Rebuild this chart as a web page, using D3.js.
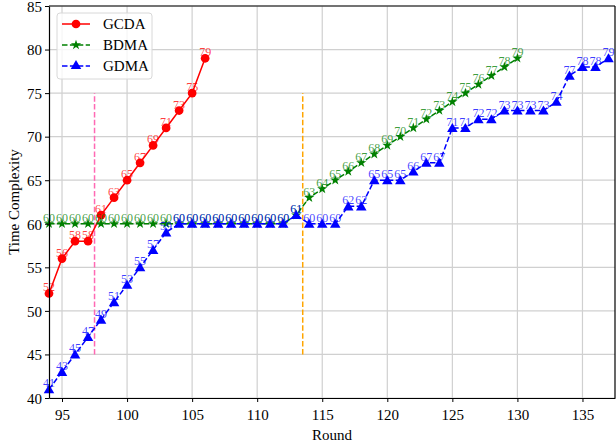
<!DOCTYPE html>
<html>
<head>
<meta charset="utf-8">
<script src="https://cdn.jsdelivr.net/npm/d3@7"></script>
<style>
  body { margin: 0; background: #fff; }
  svg, svg text { font-family: "Liberation Serif", "Times New Roman", serif; }
</style>
</head>
<body>
<div id="chart"></div>
<script>
// rounds and values
const gcdaRounds = d3.range(94, 107);
const gcdaValues = [52, 56, 58, 58, 61, 63, 65, 67, 69, 71, 73, 75, 79];

const bdmaRounds = d3.range(94, 131);
const bdmaValues = [60, 60, 60, 60, 60, 60, 60, 60, 60, 60, 60, 60, 60, 60, 60, 60, 60, 60, 60, 61,
                    63, 64, 65, 66, 67, 68, 69, 70, 71, 72, 73, 74, 75, 76, 77, 78, 79];

const gdmaRounds = d3.range(94, 138);
const gdmaValues = [41, 43, 45, 47, 49, 51, 53, 55, 57, 59, 60, 60, 60, 60, 60, 60, 60, 60, 60, 61,
                    60, 60, 60, 62, 62, 65, 65, 65, 66, 67, 67, 71, 71, 72, 72, 73, 73, 73, 73, 74,
                    77, 78, 78, 79];

const xTicks = [95, 100, 105, 110, 115, 120, 125, 130, 135];
const yTicks = [40, 45, 50, 55, 60, 65, 70, 75, 80, 85];

// vertical reference lines: [round, yFrom, yTo, colour]
const markLines = [[97.5, 45, 75, '#ff69b4'], [113.5, 45, 75, '#ffa500']];

const width = 616, height = 447;
const margin = { left: 49, right: 1, top: 6, bottom: 49 };
const serif = '"Liberation Serif", "Times New Roman", serif';
const xMin = 94, xMax = 137.5;

const svg = d3.select('#chart').append('svg')
    .attr('width', width)
    .attr('height', height)
    .attr('font-family', serif);

const x = d3.scaleLinear().domain([xMin, xMax]).range([margin.left, width - margin.right]);
const y = d3.scaleLinear().domain([40, 85]).range([height - margin.bottom, margin.top]);

// grid
svg.append('g').selectAll('line').data(xTicks).enter().append('line')
    .attr('x1', d => x(d)).attr('x2', d => x(d))
    .attr('y1', y(40)).attr('y2', y(85))
    .style('stroke', '#d0d0d0').style('stroke-width', 1.2);
svg.append('g').selectAll('line').data(yTicks).enter().append('line')
    .attr('x1', x(xMin)).attr('x2', x(xMax))
    .attr('y1', d => y(d)).attr('y2', d => y(d))
    .style('stroke', '#d0d0d0').style('stroke-width', 1.2);

// reference lines
svg.append('g').selectAll('line').data(markLines).enter().append('line')
    .attr('x1', d => x(d[0])).attr('x2', d => x(d[0]))
    .attr('y1', d => y(d[1])).attr('y2', d => y(d[2]))
    .style('stroke', d => d[3]).style('stroke-width', 1.5)
    .style('stroke-dasharray', '5.5,2.4');

const series = [
    { name: 'GCDA', rounds: gcdaRounds, values: gcdaValues, color: '#ff0000', dash: null, marker: d3.symbolCircle, size: 60 },
    { name: 'BDMA', rounds: bdmaRounds, values: bdmaValues, color: '#008000', dash: '5.5,2.4', marker: d3.symbolStar, size: 32 },
    { name: 'GDMA', rounds: gdmaRounds, values: gdmaValues, color: '#0000ff', dash: '5.5,2.4', marker: d3.symbolTriangle, size: 48 }
];

const line = d3.line().x(d => x(d[0])).y(d => y(d[1]));

series.forEach(s => {
    const pts = s.rounds.map((r, i) => [r, s.values[i]]);
    const g = svg.append('g');
    g.append('path')
        .attr('d', line(pts))
        .style('fill', 'none')
        .style('stroke', s.color)
        .style('stroke-width', 1.5)
        .style('stroke-dasharray', s.dash);
    g.selectAll('path.m').data(pts).enter().append('path')
        .attr('class', 'm')
        .attr('d', d3.symbol().type(s.marker).size(s.size))
        .attr('transform', d => `translate(${x(d[0])},${y(d[1]) + (s.marker === d3.symbolTriangle ? 1 : 0)})`)
        .style('fill', s.color);
    g.selectAll('text').data(pts).enter().append('text')
        .attr('x', d => x(d[0]))
        .attr('y', d => y(d[1]) - 2)
        .attr('text-anchor', 'middle')
        .style('font-family', serif)
        .style('font-size', '12px')
        .style('fill', s.color)
        .style('fill-opacity', 0.75)
        .text(d => d[1]);
});

// axes
const xAxis = svg.append('g')
    .attr('transform', `translate(0,${y(40)})`)
    .call(d3.axisBottom(x).tickValues(xTicks).tickSize(4).tickSizeOuter(0));
const yAxis = svg.append('g')
    .attr('transform', `translate(${x(xMin)},0)`)
    .call(d3.axisLeft(y).tickValues(yTicks).tickSize(4).tickSizeOuter(0));
[xAxis, yAxis].forEach(a => {
    a.attr('font-family', serif);
    a.selectAll('text').style('font-size', '15px').style('fill', '#000')
        .style('font-family', serif);
    a.select('.domain').style('stroke', '#000').style('stroke-width', 1.2);
});
xAxis.selectAll('text').attr('dy', '1.0em');
yAxis.selectAll('text').attr('dy', '0.35em');

// top and right spines
svg.append('line').attr('x1', x(xMin)).attr('x2', x(xMax)).attr('y1', y(85)).attr('y2', y(85))
    .style('stroke', '#000').style('stroke-width', 1.2);
svg.append('line').attr('x1', x(xMax)).attr('x2', x(xMax)).attr('y1', y(85)).attr('y2', y(40))
    .style('stroke', '#000').style('stroke-width', 1.2);

svg.append('text')
    .attr('x', (x(xMin) + x(xMax)) / 2).attr('y', 440)
    .attr('text-anchor', 'middle')
    .style('font-family', serif)
    .style('font-size', '15px')
    .text('Round');
svg.append('text')
    .attr('transform', `translate(19,${(y(40) + y(85)) / 2}) rotate(-90)`)
    .attr('text-anchor', 'middle')
    .style('font-family', serif)
    .style('font-size', '15px')
    .text('Time Complexity');

// legend
const legend = svg.append('g').attr('transform', 'translate(57,13)');
legend.append('rect')
    .attr('width', 95).attr('height', 66).attr('rx', 3)
    .style('fill', '#fff').style('fill-opacity', 0.8)
    .style('stroke', '#d8d8d8');
series.forEach((s, i) => {
    const ly = 11 + i * 21;
    legend.append('line')
        .attr('x1', 5).attr('x2', 33).attr('y1', ly).attr('y2', ly)
        .style('stroke', s.color).style('stroke-width', 1.5)
        .style('stroke-dasharray', s.dash);
    legend.append('path')
        .attr('d', d3.symbol().type(s.marker).size(s.size))
        .attr('transform', `translate(19,${ly})`)
        .style('fill', s.color);
    legend.append('text')
        .attr('x', 46).attr('y', ly + 5)
        .style('font-family', serif)
        .style('font-size', '15px')
        .text(s.name);
});
</script>
</body>
</html>
